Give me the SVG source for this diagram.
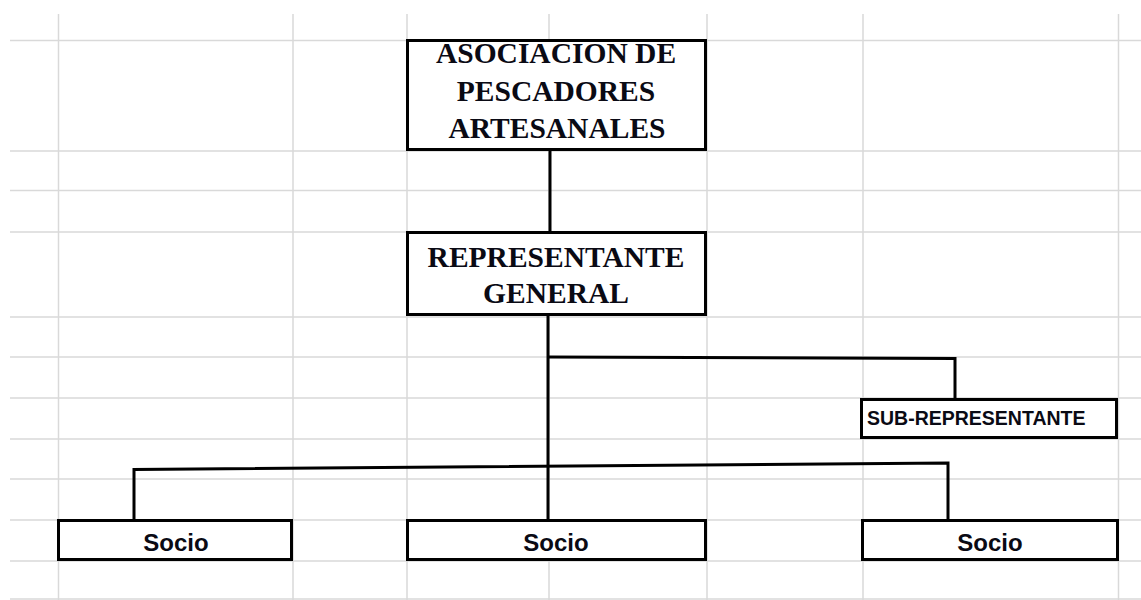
<svg xmlns="http://www.w3.org/2000/svg" width="1141" height="600" viewBox="0 0 1141 600">
<style>
.grid line{stroke:#d9d9d9;stroke-width:1.5}
.box{fill:#fff;stroke:#000;stroke-width:3}
.conn{fill:none;stroke:#000;stroke-width:3;stroke-linejoin:miter}
.serif{font-family:"Liberation Serif","Times New Roman",serif;font-weight:bold;font-size:29.5px;fill:#0a0a14;text-anchor:middle}
.sans{font-family:"Liberation Sans",Arial,sans-serif;font-weight:bold;fill:#0a0a14}
</style>
<rect width="1141" height="600" fill="#fff"/>
<g class="grid">
<line x1="58.5" y1="14" x2="58.5" y2="600"/>
<line x1="293" y1="14" x2="293" y2="600"/>
<line x1="407" y1="14" x2="407" y2="600"/>
<line x1="549" y1="14" x2="549" y2="600"/>
<line x1="707" y1="14" x2="707" y2="600"/>
<line x1="863" y1="14" x2="863" y2="600"/>
<line x1="1118.5" y1="14" x2="1118.5" y2="600"/>
<line x1="10" y1="40.5" x2="1141" y2="40.5"/>
<line x1="10" y1="151" x2="1141" y2="151"/>
<line x1="10" y1="190.5" x2="1141" y2="190.5"/>
<line x1="10" y1="232" x2="1141" y2="232"/>
<line x1="10" y1="317" x2="1141" y2="317"/>
<line x1="10" y1="357" x2="1141" y2="357"/>
<line x1="10" y1="398" x2="1141" y2="398"/>
<line x1="10" y1="439" x2="1141" y2="439"/>
<line x1="10" y1="479" x2="1141" y2="479"/>
<line x1="10" y1="520" x2="1141" y2="520"/>
<line x1="10" y1="561" x2="1141" y2="561"/>
<line x1="10" y1="599" x2="1141" y2="599"/>
</g>
<g id="connectors">
<line class="conn" x1="550" y1="150" x2="550" y2="232"/>
<line class="conn" x1="548" y1="315" x2="548" y2="520"/>
<polyline class="conn" points="548,357 955,358.5 955,399"/>
<polyline class="conn" points="134,520 134,469.5 948,463 948,520"/>
</g>
<g id="node-asociacion">
<rect class="box" x="407.5" y="40.5" width="298" height="109"/>
<text class="serif" x="556" y="63">ASOCIACION DE</text>
<text class="serif" x="556" y="101">PESCADORES</text>
<text class="serif" x="557" y="138">ARTESANALES</text>
</g>
<g id="node-representante">
<rect class="box" x="407.5" y="232.5" width="298" height="82"/>
<text class="serif" x="556" y="267">REPRESENTANTE</text>
<text class="serif" x="556" y="303">GENERAL</text>
</g>
<g id="node-sub">
<rect class="box" x="861.5" y="399.5" width="255" height="38"/>
<text class="sans" x="867" y="425" font-size="19.5">SUB-REPRESENTANTE</text>
</g>
<g id="node-socio-1">
<rect class="box" x="58.5" y="520.5" width="233" height="39"/>
<text class="sans" x="176" y="551" font-size="24" text-anchor="middle">Socio</text>
</g>
<g id="node-socio-2">
<rect class="box" x="407.5" y="520.5" width="298" height="39"/>
<text class="sans" x="556" y="551" font-size="24" text-anchor="middle">Socio</text>
</g>
<g id="node-socio-3">
<rect class="box" x="862.5" y="520.5" width="255" height="39"/>
<text class="sans" x="990" y="551" font-size="24" text-anchor="middle">Socio</text>
</g>
</svg>
